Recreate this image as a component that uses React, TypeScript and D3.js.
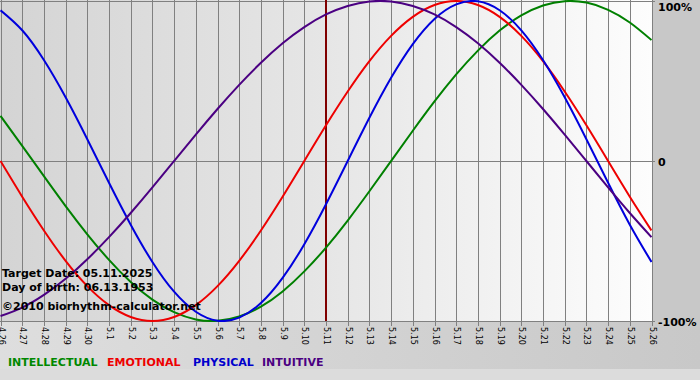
import React from "react";
import * as d3 from "d3";

const dayLabels: string[] = [
  "4.26", "4.27", "4.28", "4.29", "4.30",
  "5.1", "5.2", "5.3", "5.4", "5.5", "5.6", "5.7", "5.8", "5.9", "5.10",
  "5.11", "5.12", "5.13", "5.14", "5.15", "5.16", "5.17", "5.18", "5.19", "5.20",
  "5.21", "5.22", "5.23", "5.24", "5.25", "5.26",
];

const intellectual: number[] = [
  0.282, 0.095, -0.095, -0.282, -0.458, -0.618, -0.756, -0.866, -0.945, -0.99,
  -0.999, -0.972, -0.91, -0.815, -0.69, -0.541, -0.372, -0.189, 0, 0.189,
  0.372, 0.541, 0.69, 0.815, 0.91, 0.972, 0.999, 0.99, 0.945, 0.866, 0.756,
];
const emotional: number[] = [
  0, -0.223, -0.434, -0.624, -0.782, -0.901, -0.975, -1, -0.975, -0.901,
  -0.782, -0.624, -0.434, -0.223, 0, 0.223, 0.434, 0.624, 0.782, 0.901,
  0.975, 1, 0.975, 0.901, 0.782, 0.624, 0.434, 0.223, 0, -0.223, -0.434,
];
const physical: number[] = [
  0.942, 0.817, 0.631, 0.398, 0.136, -0.136, -0.398, -0.631, -0.817, -0.942,
  -0.998, -0.979, -0.888, -0.731, -0.52, -0.27, 0, 0.27, 0.52, 0.731,
  0.888, 0.979, 0.998, 0.942, 0.817, 0.631, 0.398, 0.136, -0.136, -0.398, -0.631,
];
const intuitive: number[] = [
  -0.969, -0.916, -0.837, -0.736, -0.614, -0.476, -0.325, -0.165, 0, 0.165,
  0.325, 0.476, 0.614, 0.736, 0.837, 0.916, 0.969, 0.997, 0.997, 0.969,
  0.916, 0.837, 0.736, 0.614, 0.476, 0.325, 0.165, 0, -0.165, -0.325, -0.476,
];

const targetIndex = 15;
const seriesNames = ["INTELLECTUAL", "EMOTIONAL", "PHYSICAL", "INTUITIVE"];
const infoLines = ["Target Date: 05.11.2025", "Day of birth: 06.13.1953", "\u00a92010 biorhythm-calculator.net"];
const yTickLabels = ["100%", "0", "-100%"];
const yTickValues = [1, 0, -1];

const W = 700;
const H = 380;
const FONT = "'DejaVu Sans', Verdana, sans-serif";

export default function App() {
  const x = d3.scaleLinear().domain([0, dayLabels.length - 1]).range([0.5, 651.5]);
  const y = d3.scaleLinear().domain([-1, 1]).range([321, 1]);
  const line = d3
    .line<number>()
    .x((_, i) => x(i))
    .y((d) => y(d))
    .curve(d3.curveNatural);

  const series = [
    { name: seriesNames[0], data: intellectual, color: "#008000" },
    { name: seriesNames[1], data: emotional, color: "#ee0000" },
    { name: seriesNames[2], data: physical, color: "#0000dd" },
    { name: seriesNames[3], data: intuitive, color: "#4b0082" },
  ];
  const legendX = [8, 107, 193, 262];
  const legendColors = ["#008800", "#ee0000", "#0000cc", "#4b0082"];

  return (
    <svg
      width={W}
      height={H}
      style={{ position: "absolute", left: 0, top: 0, display: "block" }}
      fontFamily={FONT}
    >
      <defs>
        <linearGradient id="plotbg" x1="0" x2="1" y1="0" y2="0">
          <stop offset="0" stopColor="#d4d4d4" />
          <stop offset="0.5" stopColor="#e6e6e6" />
          <stop offset="1" stopColor="#fdfdfd" />
        </linearGradient>
        <linearGradient id="botbg" x1="0" x2="1" y1="0" y2="0">
          <stop offset="0" stopColor="#dedede" />
          <stop offset="1" stopColor="#c8c8c8" />
        </linearGradient>
        <clipPath id="plotclip">
          <rect x={0} y={0} width={652} height={322} />
        </clipPath>
      </defs>
      <rect x={0} y={0} width={W} height={H} fill="#c8c8c8" />
      <rect x={0} y={321} width={W} height={48} fill="url(#botbg)" />
      <rect x={0} y={369} width={W} height={11} fill="#dcdcdc" />
      <rect x={0} y={0} width={652} height={321} fill="url(#plotbg)" />

      {/* vertical grid lines and ticks */}
      {dayLabels.map((lab, i) => (
        <line
          key={"g" + i}
          x1={Math.round(x(i)) + 0.5}
          x2={Math.round(x(i)) + 0.5}
          y1={0}
          y2={326}
          stroke="#808080"
          strokeWidth={1}
        />
      ))}
      {/* horizontal lines */}
      {yTickValues.map((v, i) => (
        <line
          key={"h" + i}
          x1={0}
          x2={655}
          y1={Math.round(y(v)) + 0.5}
          y2={Math.round(y(v)) + 0.5}
          stroke="#808080"
          strokeWidth={1}
        />
      ))}

      {/* target date line */}
      <line
        x1={x(targetIndex)}
        x2={x(targetIndex)}
        y1={0}
        y2={321}
        stroke="#800000"
        strokeWidth={2}
      />

      <g clipPath="url(#plotclip)">
        {series.map((s) => (
          <path key={s.name} d={line(s.data) || ""} fill="none" stroke={s.color} strokeWidth={2} />
        ))}
      </g>

      {/* x tick labels */}
      {dayLabels.map((lab, i) => (
        <text
          key={"t" + i}
          transform={`translate(${Math.round(x(i)) + 0.5},327) rotate(90)`}
          fontSize={8}
          fill="#000"
          dominantBaseline="central"
          textAnchor="start"
        >
          {lab}
        </text>
      ))}

      {/* y labels */}
      {yTickLabels.map((lab, i) => (
        <text
          key={"y" + i}
          x={658}
          y={[11, 166, 326][i]}
          fontSize={11}
          fontWeight="bold"
          fill="#000"
        >
          {lab}
        </text>
      ))}

      {/* info text */}
      {infoLines.map((t, i) => (
        <text key={"i" + i} x={2} y={[277, 291, 310][i]} fontSize={11} fontWeight="bold" fill="#000">
          {t}
        </text>
      ))}

      {/* legend */}
      {seriesNames.map((n, i) => (
        <text key={"l" + i} x={legendX[i]} y={366} fontSize={11} fontWeight="bold" fill={legendColors[i]}>
          {n}
        </text>
      ))}
    </svg>
  );
}
